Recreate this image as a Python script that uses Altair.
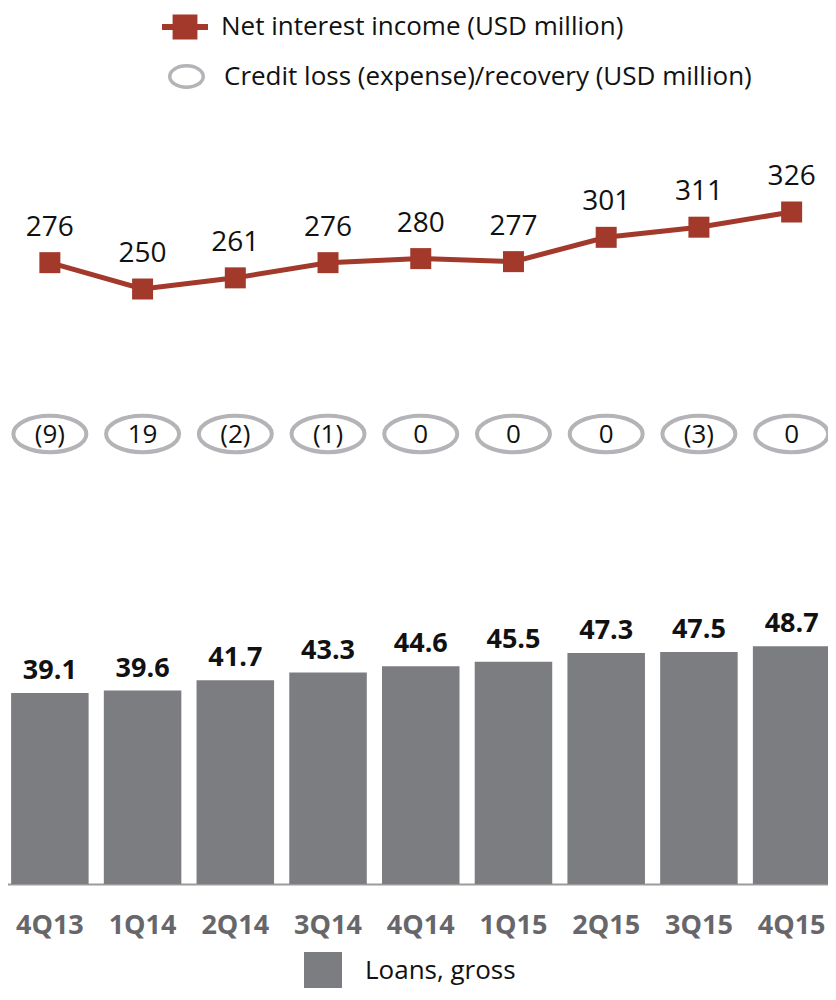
import altair as alt
import pandas as pd

quarters = ["4Q13", "1Q14", "2Q14", "3Q14", "4Q14", "1Q15", "2Q15", "3Q15", "4Q15"]
net_interest_income = [276, 250, 261, 276, 280, 277, 301, 311, 326]
credit_loss = [-9, 19, -2, -1, 0, 0, 0, -3, 0]
loans_gross = [39.1, 39.6, 41.7, 43.3, 44.6, 45.5, 47.3, 47.5, 48.7]

NII_NAME = "Net interest income (USD million)"
CREDIT_NAME = "Credit loss (expense)/recovery (USD million)"
LOANS_NAME = "Loans, gross"


def fmt(v):
    return f"({abs(v)})" if v < 0 else str(v)


df = pd.DataFrame({
    "quarter": quarters,
    "nii": net_interest_income,
    "credit": credit_loss,
    "credit_label": [fmt(v) for v in credit_loss],
    "loans": loans_gross,
    "s_nii": NII_NAME,
    "s_credit": CREDIT_NAME,
    "s_loans": LOANS_NAME,
})

RED = "#a3392a"
GRAY_BAR = "#7c7d81"
ELL = "#b4b4b8"
AXIS_GRAY = "#9b9b9b"
LABEL_GRAY = "#67676b"
TXT = "#111111"
FONT = "Open Sans"

ELLIPSE = "M-1,0A1,0.5,0,1,0,1,0A1,0.5,0,1,0,-1,0Z"
ELLIPSE_LEG = "M-1,0A1,0.64,0,1,0,1,0A1,0.64,0,1,0,-1,0Z"
LINE_SQ = "M-1,-0.13H1V0.13H-1Z M-0.54,-0.54H0.54V0.54H-0.54Z"

x_scale = alt.Scale(domain=quarters, range=[-4.5, 830], paddingInner=0.164, paddingOuter=0.082)
x_enc = alt.X(
    "quarter:N", sort=quarters, scale=x_scale,
    axis=alt.Axis(title=None, labelFont=FONT, labelFontSize=27, labelFontWeight="bold",
                  labelColor=LABEL_GRAY, labelPadding=28, ticks=False, domainColor=AXIS_GRAY,
                  domainWidth=2, grid=False, labelAngle=0),
)

loans_scale = alt.Scale(domain=[0, 48.7], range=[876, 876 - 48.7 * 4.884], nice=False, zero=True)
nii_scale = alt.Scale(domain=[250, 326], range=[281, 204], nice=False, zero=False)

leg_common = dict(title=None, orient="none", labelFont=FONT, labelFontSize=26, labelColor=TXT,
                  labelLimit=1000)

bars = alt.Chart(df).mark_bar().encode(
    x=x_enc,
    y=alt.Y("loans:Q", scale=loans_scale, axis=None),
    fill=alt.Fill("s_loans:N", scale=alt.Scale(range=[GRAY_BAR]),
                  legend=alt.Legend(legendX=296, legendY=944, symbolType="square",
                                    symbolSize=1444, symbolStrokeWidth=0, labelOffset=23,
                                    **leg_common)),
)

bar_text = alt.Chart(df).mark_text(font=FONT, fontSize=27, fontWeight="bold", color=TXT,
                                   dy=-14, baseline="alphabetic").encode(
    x=x_enc,
    y=alt.Y("loans:Q", scale=loans_scale, axis=None),
    text=alt.Text("loans:Q", format=".1f"),
)

line = alt.Chart(df).mark_line(color=RED, strokeWidth=5).encode(
    x=x_enc,
    y=alt.Y("nii:Q", scale=nii_scale, axis=None),
)

squares = alt.Chart(df).mark_square(size=441, filled=True, opacity=1).encode(
    x=x_enc,
    y=alt.Y("nii:Q", scale=nii_scale, axis=None),
    color=alt.Color("s_nii:N", scale=alt.Scale(range=[RED]),
                    legend=alt.Legend(legendX=154, legendY=-4, symbolType=LINE_SQ,
                                      symbolSize=2116, symbolStrokeWidth=0, labelOffset=13,
                                      **leg_common)),
)

nii_text = alt.Chart(df).mark_text(font=FONT, fontSize=28, color=TXT, dy=-27,
                                   baseline="alphabetic").encode(
    x=x_enc,
    y=alt.Y("nii:Q", scale=nii_scale, axis=None),
    text=alt.Text("nii:Q"),
)

ellipses = alt.Chart(df).mark_point(shape=ELLIPSE, size=5329, filled=False, strokeWidth=4,
                                    opacity=1).encode(
    x=x_enc,
    y=alt.value(426),
    stroke=alt.Stroke("s_credit:N", scale=alt.Scale(range=[ELL]),
                      legend=alt.Legend(legendX=160, legendY=50, symbolType=ELLIPSE_LEG,
                                        symbolSize=1122, symbolStrokeWidth=3.5,
                                        labelOffset=19, **leg_common)),
)

ell_text = alt.Chart(df).mark_text(font=FONT, fontSize=26, color=TXT, baseline="middle",
                                   dy=1).encode(
    x=x_enc,
    y=alt.value(426),
    text=alt.Text("credit_label:N"),
)

chart = alt.layer(bars, bar_text, line, squares, nii_text, ellipses, ell_text).resolve_scale(
    y="independent"
).properties(
    width=820, height=876,
    padding={"left": 0, "top": 0, "right": 0, "bottom": 104},
    autosize="none",
).configure_view(stroke=None)

chart.save("out.html", embed_options={"renderer": "svg", "actions": False})
